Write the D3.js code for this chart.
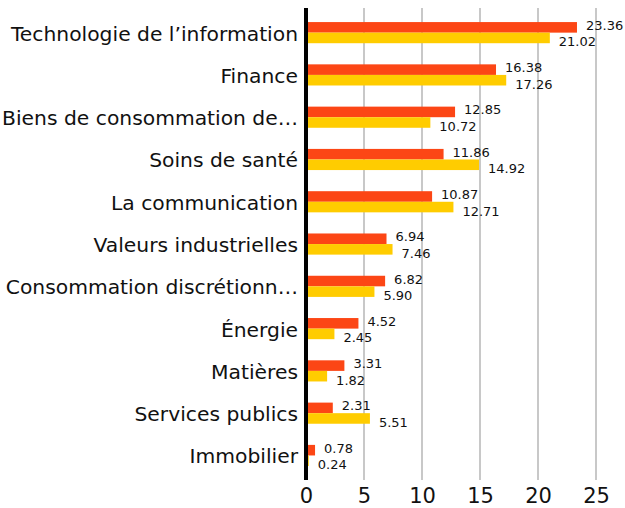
<!DOCTYPE html>
<html><head><meta charset="utf-8">
<script src="https://cdn.jsdelivr.net/npm/d3@7"></script>
<style>body{margin:0;background:#fff}text{font-family:"DejaVu Sans",sans-serif;fill:#111}</style>
</head><body><svg id="c" width="625" height="508"></svg>
<script>
const categories = ["Technologie de l’information","Finance","Biens de consommation de…","Soins de santé","La communication","Valeurs industrielles","Consommation discrétionn…","Énergie","Matières","Services publics","Immobilier"];
const seriesA = [23.36,16.38,12.85,11.86,10.87,6.94,6.82,4.52,3.31,2.31,0.78];
const seriesB = [21.02,17.26,10.72,14.92,12.71,7.46,5.90,2.45,1.82,5.51,0.24];
const ticks = [0,5,10,15,20,25];
const colors = ["#FC4615","#FFCC00"];

const svg = d3.select("#c");
const x = d3.scaleLinear().domain([0,25]).range([306,596]);
const y = d3.scaleBand().domain(categories).range([11.5,476.6]).paddingInner(0.5).paddingOuter(0.25);
const plotTop = 8, plotBottom = 480;

svg.append("g").selectAll("line").data(ticks.slice(1)).join("line")
  .attr("x1",d=>x(d)).attr("x2",d=>x(d)).attr("y1",plotTop).attr("y2",plotBottom)
  .attr("stroke","#c8c8c8").attr("stroke-width",2);

const bh = y.bandwidth()/2;
const g = svg.append("g");
categories.forEach((c,i)=>{
  [seriesA[i],seriesB[i]].forEach((v,j)=>{
    g.append("rect").attr("x",x(0)).attr("y",y(c)+j*bh).attr("width",x(v)-x(0)).attr("height",bh).attr("fill",colors[j]);
    g.append("text").attr("x",x(v)+9).attr("y",y(c)+j*bh+bh/2 + (j===0?-2:4))
      .attr("dominant-baseline","central").style("font-size","13px").text(v.toFixed(2));
  });
});

svg.append("line").attr("x1",x(0)).attr("x2",x(0)).attr("y1",plotTop).attr("y2",plotBottom).attr("stroke","#000").attr("stroke-width",4);

svg.append("g").selectAll("text").data(categories).join("text")
  .attr("x",298).attr("y",d=>y(d)+y.bandwidth()/2+1).attr("text-anchor","end").attr("dominant-baseline","central")
  .style("font-size","20.3px").text(d=>d);

const ax = svg.append("g").attr("transform",`translate(0,${plotBottom})`).call(d3.axisBottom(x).tickValues(ticks).tickSize(0).tickPadding(8).tickFormat(d3.format("d")));
ax.select(".domain").remove();
ax.selectAll("text").style("font-size","21px").style("font-family","'DejaVu Sans',sans-serif").attr("fill","#111");
</script></body></html>
